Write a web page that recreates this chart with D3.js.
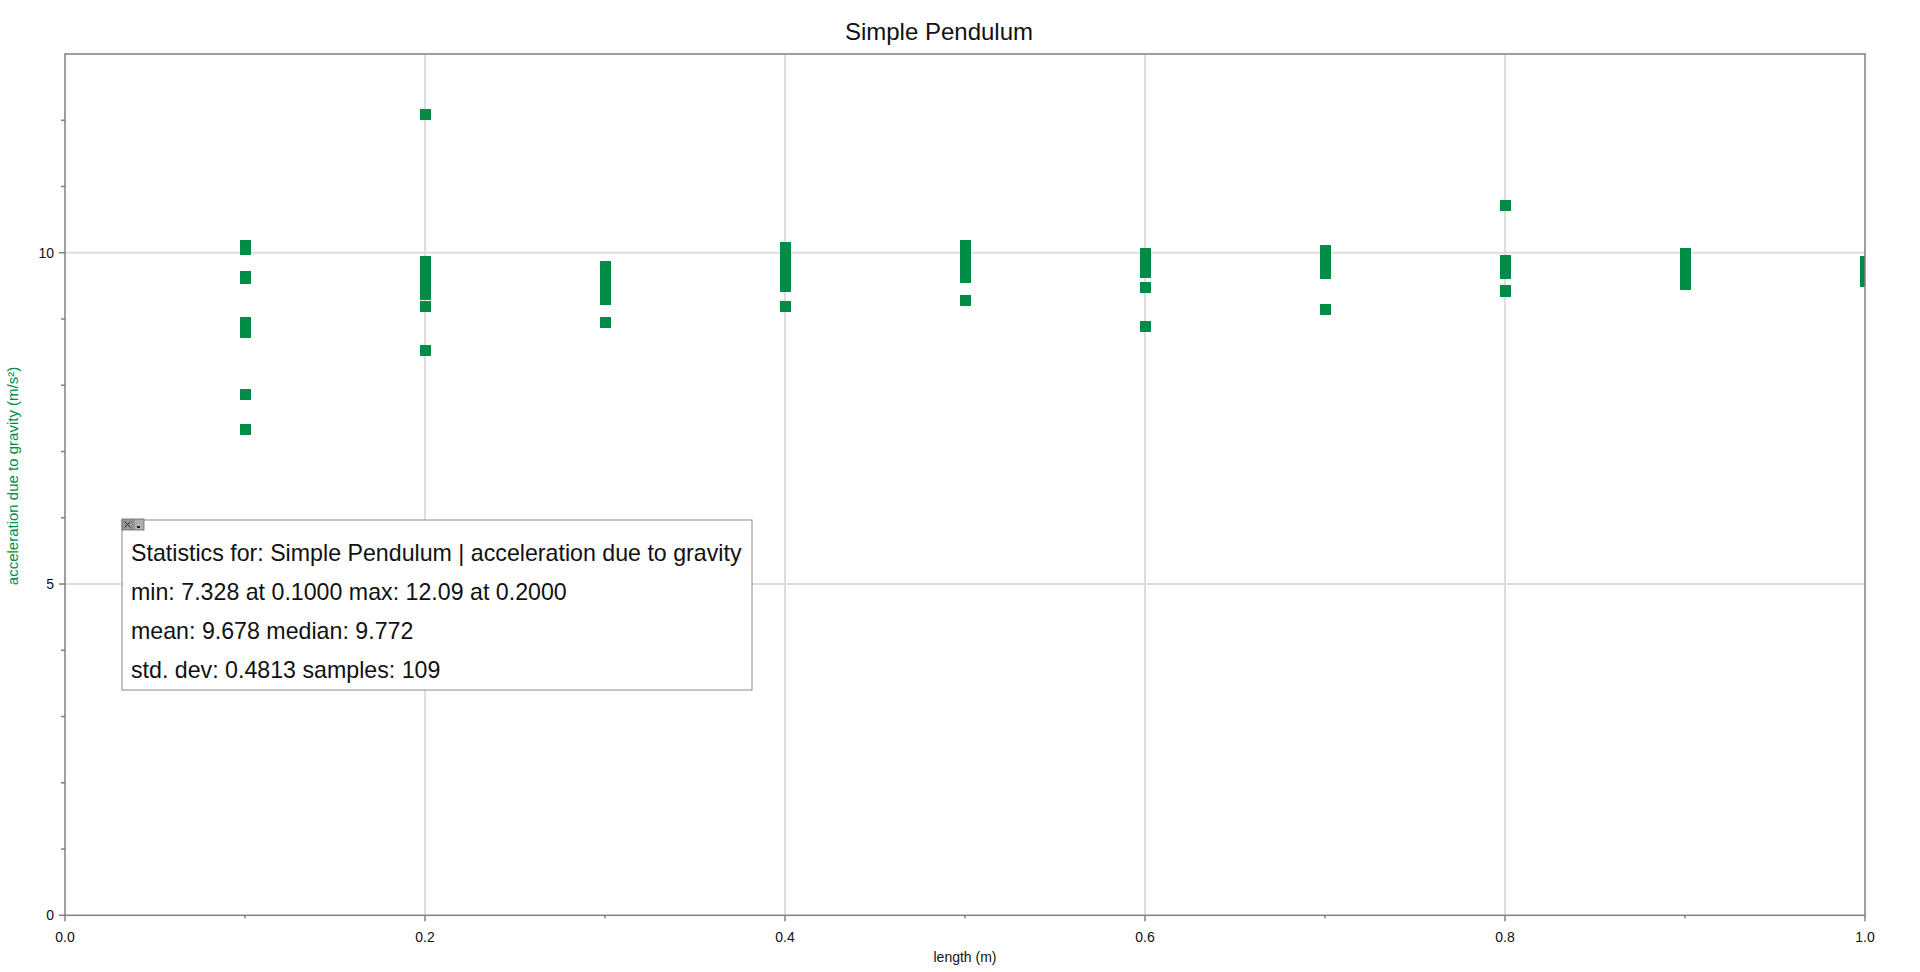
<!DOCTYPE html>
<html>
<head>
<meta charset="utf-8">
<script src="https://cdn.jsdelivr.net/npm/d3@7/dist/d3.min.js"></script>
<style>
  html, body { margin: 0; padding: 0; background: #fff; }
  svg { display: block; font-family: "Liberation Sans", Arial, sans-serif; }
  .frame { fill: none; stroke: #808080; stroke-width: 1.5; }
  .grid { stroke: #dddddd; stroke-width: 2; }
  .tick { stroke: #808080; stroke-width: 1.5; }
  .tick-label { font-size: 14px; fill: #111; }
  .point { fill: #008c46; shape-rendering: crispEdges; }
  .stats-box { fill: #fff; stroke: #888; stroke-width: 1; }
  .stats-text { font-size: 23.2px; fill: #111; }
</style>
</head>
<body>
<div id="chart"></div>
<script>
// pendulum lengths (m) and the measured g values at each length
var lengths = [0.1, 0.2, 0.3, 0.4, 0.5, 0.6, 0.7, 0.8, 0.9, 1.0];
var gByLength = [
  [10.11, 10.08, 10.05, 9.64, 9.61, 8.94, 8.87, 8.80, 7.86, 7.328],
  [12.09, 9.87, 9.84, 9.80, 9.73, 9.66, 9.60, 9.53, 9.45, 9.37, 9.19, 8.52],
  [9.79, 9.74, 9.68, 9.62, 9.56, 9.50, 9.44, 9.38, 9.33, 9.29, 8.95],
  [10.08, 10.02, 9.96, 9.90, 9.84, 9.79, 9.74, 9.68, 9.62, 9.56, 9.52, 9.49, 9.19],
  [10.11, 10.06, 10.01, 9.96, 9.91, 9.86, 9.81, 9.76, 9.71, 9.67, 9.63, 9.28],
  [9.99, 9.94, 9.89, 9.84, 9.79, 9.75, 9.70, 9.48, 9.47, 8.89],
  [10.03, 9.98, 9.93, 9.88, 9.83, 9.78, 9.73, 9.69, 9.15, 9.14],
  [10.71, 9.88, 9.84, 9.80, 9.76, 9.72, 9.69, 9.43, 9.42],
  [9.99, 9.95, 9.90, 9.86, 9.82, 9.77, 9.73, 9.69, 9.64, 9.60, 9.56, 9.52],
  [9.87, 9.84, 9.80, 9.77, 9.73, 9.70, 9.67, 9.63, 9.60, 9.56]
];

var xMajor = [0, 0.2, 0.4, 0.6, 0.8, 1.0];
var xMinor = [0.1, 0.3, 0.5, 0.7, 0.9];
var xGrid = [0.2, 0.4, 0.6, 0.8];
var yMajor = [0, 5, 10];
var yMinor = [1, 2, 3, 4, 6, 7, 8, 9, 11, 12];
var yGrid = [5, 10];

var title = "Simple Pendulum";
var xTitle = "length (m)";
var yTitle = "acceleration due to gravity (m/s²)";
var statsLines = [
  "Statistics for: Simple Pendulum | acceleration due to gravity",
  "min: 7.328 at 0.1000 max: 12.09 at 0.2000",
  "mean: 9.678 median: 9.772",
  "std. dev: 0.4813 samples: 109"
];

(function() {
  var W = 1920, H = 972;
  var plot = {left: 65, right: 1865, top: 54, bottom: 915.3};

  var x = d3.scaleLinear().domain([0, 1]).range([plot.left, plot.right]),
      y = d3.scaleLinear().domain([0, 13]).range([plot.bottom, plot.top]);

  var svg = d3.select("#chart")
    .append("svg")
      .attr("width", W)
      .attr("height", H);

  svg.append("defs")
    .append("clipPath")
      .attr("id", "plot-clip")
    .append("rect")
      .attr("x", plot.left)
      .attr("y", plot.top)
      .attr("width", plot.right - plot.left)
      .attr("height", plot.bottom - plot.top);

  // grid
  svg.selectAll(".grid-x")
    .data(xGrid)
    .enter().append("line")
      .attr("class", "grid")
      .attr("x1", d => x(d)).attr("x2", d => x(d))
      .attr("y1", plot.top).attr("y2", plot.bottom);

  svg.selectAll(".grid-y")
    .data(yGrid)
    .enter().append("line")
      .attr("class", "grid")
      .attr("x1", plot.left).attr("x2", plot.right)
      .attr("y1", d => y(d)).attr("y2", d => y(d));

  // points, each sample a small square
  var samples = [];
  lengths.forEach(function(len, i) {
    gByLength[i].forEach(function(g) { samples.push({len: len, g: g}); });
  });

  var s = 11;
  svg.append("g")
      .attr("clip-path", "url(#plot-clip)")
    .selectAll("rect")
    .data(samples)
    .enter().append("rect")
      .attr("class", "point")
      .attr("x", d => x(d.len) - s / 2)
      .attr("y", d => y(d.g) - s / 2)
      .attr("width", s)
      .attr("height", s);

  // frame
  svg.append("rect")
    .attr("class", "frame")
    .attr("x", plot.left)
    .attr("y", plot.top)
    .attr("width", plot.right - plot.left)
    .attr("height", plot.bottom - plot.top);

  // x ticks
  svg.selectAll(".xt-major")
    .data(xMajor)
    .enter().append("line")
      .attr("class", "tick")
      .attr("x1", d => x(d)).attr("x2", d => x(d))
      .attr("y1", plot.bottom).attr("y2", plot.bottom + 6);

  svg.selectAll(".xt-minor")
    .data(xMinor)
    .enter().append("line")
      .attr("class", "tick")
      .attr("x1", d => x(d)).attr("x2", d => x(d))
      .attr("y1", plot.bottom).attr("y2", plot.bottom + 3);

  svg.selectAll(".xt-label")
    .data(xMajor)
    .enter().append("text")
      .attr("class", "tick-label")
      .attr("x", d => x(d))
      .attr("y", plot.bottom + 27)
      .attr("text-anchor", "middle")
      .text(d3.format(".1f"));

  // y ticks
  svg.selectAll(".yt-major")
    .data(yMajor)
    .enter().append("line")
      .attr("class", "tick")
      .attr("x1", plot.left - 6).attr("x2", plot.left)
      .attr("y1", d => y(d)).attr("y2", d => y(d));

  svg.selectAll(".yt-minor")
    .data(yMinor)
    .enter().append("line")
      .attr("class", "tick")
      .attr("x1", plot.left - 4).attr("x2", plot.left)
      .attr("y1", d => y(d)).attr("y2", d => y(d));

  svg.selectAll(".yt-label")
    .data(yMajor)
    .enter().append("text")
      .attr("class", "tick-label")
      .attr("x", plot.left - 11)
      .attr("y", d => y(d) + 5)
      .attr("text-anchor", "end")
      .text(d => d);

  // titles
  svg.append("text")
    .attr("x", 939)
    .attr("y", 40)
    .attr("text-anchor", "middle")
    .style("font-size", "24px")
    .style("fill", "#111")
    .text(title);

  svg.append("text")
    .attr("x", (plot.left + plot.right) / 2)
    .attr("y", 962)
    .attr("text-anchor", "middle")
    .style("font-size", "14px")
    .style("fill", "#111")
    .text(xTitle);

  svg.append("text")
    .attr("transform", `translate(18,476) rotate(-90)`)
    .attr("text-anchor", "middle")
    .style("font-size", "15px")
    .style("fill", "#008c46")
    .text(yTitle);

  // statistics box
  var box = svg.append("g").attr("transform", "translate(122,520)");

  box.append("rect")
    .attr("class", "stats-box")
    .attr("width", 630)
    .attr("height", 170);

  box.selectAll(".stats-text")
    .data(statsLines)
    .enter().append("text")
      .attr("class", "stats-text")
      .attr("x", 9)
      .attr("y", (d, i) => 41 + i * 39)
      .text(d => d);

  // little close / minimise buttons
  box.append("rect")
    .attr("x", 0).attr("y", -1)
    .attr("width", 11).attr("height", 11)
    .style("fill", "#9a9a9a").style("stroke", "#666").style("stroke-width", 0.8);
  box.append("path")
    .attr("d", "M2.5,1.5L8.5,7.5M8.5,1.5L2.5,7.5")
    .style("stroke", "#222").style("stroke-width", 1);
  box.append("rect")
    .attr("x", 12).attr("y", -1)
    .attr("width", 10).attr("height", 11)
    .style("fill", "#b0b0b0").style("stroke", "#666").style("stroke-width", 0.8);
  box.append("rect")
    .attr("x", 15).attr("y", 6)
    .attr("width", 3).attr("height", 2)
    .style("fill", "#222");
})();
</script>
</body>
</html>
